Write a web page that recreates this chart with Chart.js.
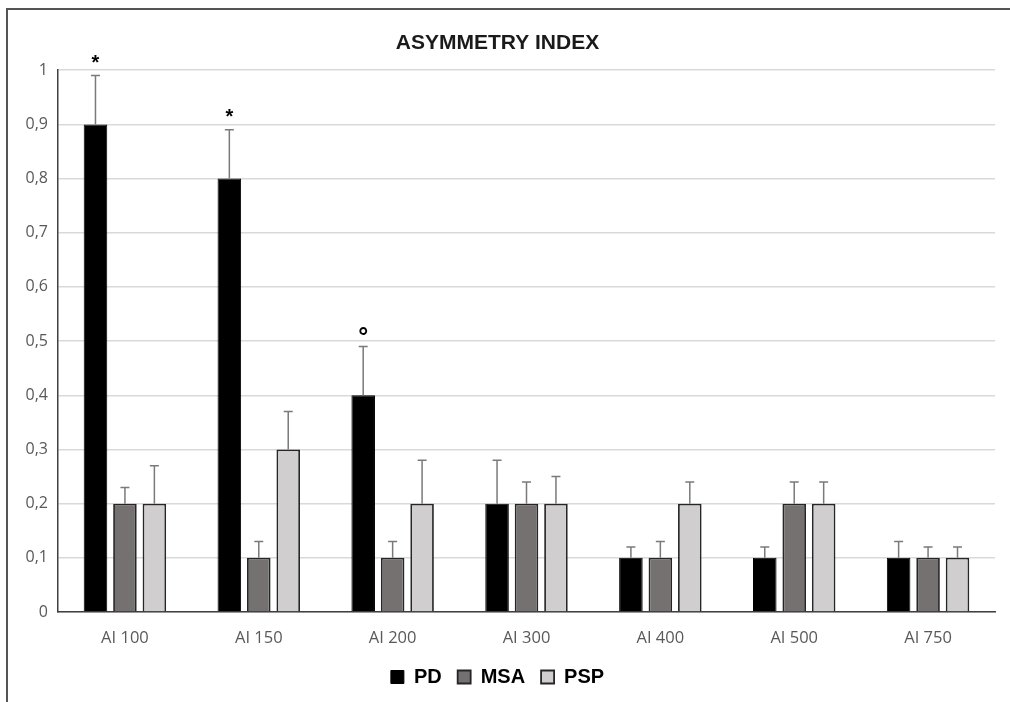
<!DOCTYPE html>
<html>
<head>
<meta charset="utf-8">
<script src="https://cdn.jsdelivr.net/npm/chart.js@4/dist/chart.umd.min.js"></script>
<style>
	html, body { margin: 0; padding: 0; background: #fff; overflow: hidden; }
	#frame { position: absolute; left: 6px; top: 8px; width: 1100px; height: 800px; border: 2px solid #555; }
	#wrap { position: absolute; left: 0; top: 0; width: 1010px; height: 702px; }
</style>
</head>
<body>
<div id="frame"></div>
<div id="wrap"><canvas id="chartAsym"></canvas></div>
<script>
	'use strict';
	// categories and values
	var categories = ['AI 100', 'AI 150', 'AI 200', 'AI 300', 'AI 400', 'AI 500', 'AI 750'];
	var pdValues = [0.9, 0.8, 0.4, 0.2, 0.1, 0.1, 0.1];
	var msaValues = [0.2, 0.1, 0.1, 0.2, 0.1, 0.2, 0.1];
	var pspValues = [0.2, 0.3, 0.2, 0.2, 0.2, 0.2, 0.1];
	// upper error bars (+ only)
	var pdErrors = [0.09, 0.09, 0.09, 0.08, 0.02, 0.02, 0.03];
	var msaErrors = [0.03, 0.03, 0.03, 0.04, 0.03, 0.04, 0.02];
	var pspErrors = [0.07, 0.07, 0.08, 0.05, 0.04, 0.04, 0.02];
	// significance marks over the PD bars
	var pdMarks = ['*', '*', '°', '', '', '', ''];
	var yTicks = [0, 0.1, 0.2, 0.3, 0.4, 0.5, 0.6, 0.7, 0.8, 0.9, 1];

	var errorSets = [pdErrors, msaErrors, pspErrors];
	var markSets = [pdMarks, null, null];

	var errorBars = {
		id: 'errorBars',
		afterDatasetsDraw: function(chart) {
			var ctx = chart.ctx;
			var yScale = chart.scales.y;
			ctx.save();
			chart.data.datasets.forEach(function(ds, i) {
				var meta = chart.getDatasetMeta(i);
				meta.data.forEach(function(bar, j) {
					var top = yScale.getPixelForValue(ds.data[j] + errorSets[i][j]);
					ctx.strokeStyle = '#7a7a7a';
					ctx.lineWidth = 1.5;
					ctx.beginPath();
					ctx.moveTo(bar.x, bar.y);
					ctx.lineTo(bar.x, top);
					ctx.moveTo(bar.x - 4.5, top);
					ctx.lineTo(bar.x + 4.5, top);
					ctx.stroke();
					var marks = markSets[i];
					if (marks && marks[j]) {
						ctx.fillStyle = '#000';
						ctx.textAlign = 'center';
						ctx.textBaseline = 'alphabetic';
						if (marks[j] === '°') {
							ctx.font = 'bold 24px "DejaVu Sans", sans-serif';
							ctx.fillText(marks[j], bar.x, top - 1);
						} else {
							ctx.font = 'bold 20px "Liberation Sans", Arial, sans-serif';
							ctx.fillText(marks[j], bar.x, top - 7);
						}
					}
				});
			});
			ctx.restore();
		}
	};

	var ctx = document.getElementById('chartAsym');
	new Chart(ctx, {
		type: 'bar',
		data: {
			labels: categories,
			datasets: [{
				label: 'PD',
				data: pdValues,
				backgroundColor: '#000000',
				borderColor: '#000000',
				borderWidth: 1
			}, {
				label: 'MSA',
				data: msaValues,
				backgroundColor: '#767171',
				borderColor: '#262626',
				borderWidth: 1.8
			}, {
				label: 'PSP',
				data: pspValues,
				backgroundColor: '#d0cece',
				borderColor: '#262626',
				borderWidth: 1.8
			}]
		},
		options: {
			responsive: true,
			maintainAspectRatio: false,
			animation: false,
			categoryPercentage: 0.66,
			barPercentage: 0.8,
			layout: {
				padding: { left: 0, right: 15, top: 0, bottom: 5 }
			},
			plugins: {
				title: {
					display: true,
					text: 'ASYMMETRY INDEX',
					color: '#1a1a1a',
					font: { family: '"Liberation Sans", Arial, sans-serif', size: 21, weight: 'bold' },
					padding: { top: 31, bottom: 14 }
				},
				legend: {
					display: true,
					position: 'bottom',
					labels: {
						color: '#000',
						boxWidth: 13,
						boxHeight: 13,
						padding: 16,
						font: { family: '"Liberation Sans", Arial, sans-serif', size: 20, weight: 'bold' }
					}
				},
				tooltip: { enabled: false }
			},
			scales: {
				x: {
					afterFit: function(scale) { scale.height = 39; },
					grid: { display: false, drawTicks: false },
					border: { display: true, color: '#404040', width: 1.5 },
					ticks: {
						color: '#595959',
						padding: 16,
						font: { family: '"Open Sans", sans-serif', size: 16.5 }
					}
				},
				y: {
					min: 0,
					max: 1,
					afterFit: function(scale) { scale.width = 58; },
					afterBuildTicks: function(scale) {
						scale.ticks = yTicks.map(function(v) { return { value: v }; });
					},
					grid: { color: '#d9d9d9', lineWidth: 1.5, drawTicks: false },
					border: { display: true, color: '#404040', width: 1.5 },
					ticks: {
						color: '#595959',
						padding: 10,
						font: { family: '"Open Sans", sans-serif', size: 16 },
						callback: function(v) {
							return String(Number(v.toFixed(1))).replace('.', ',');
						}
					}
				}
			}
		},
		plugins: [errorBars]
	});
</script>
</body>
</html>
